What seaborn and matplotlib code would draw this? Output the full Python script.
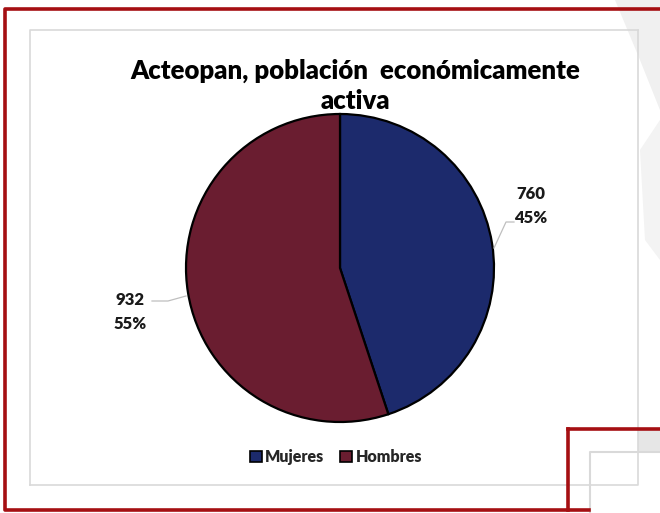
import matplotlib
matplotlib.use("Agg")
import matplotlib.pyplot as plt
import seaborn as sns
from matplotlib.lines import Line2D
from matplotlib.patches import Rectangle, Polygon

sns.set_theme(style="white")
plt.rcParams['font.family'] = ['Lato', 'DejaVu Sans']

categories = ["Mujeres", "Hombres"]
values = [760, 932]
colors = ["#1C2A6C", "#6A1D30"]
title = "Acteopan, población  económicamente\nactiva"

W, H = 660, 513
fig = plt.figure(figsize=(W / 100, H / 100), dpi=100)
fig.patch.set_facecolor("white")

def fx(x):
    return x / W

def fy(y):
    return 1 - y / H

# decorative light gray stroke at right
fig.patches.append(Polygon([(fx(615), fy(0)), (fx(660), fy(0)), (fx(660), fy(110)), (fx(640), fy(60))],
                           closed=True, transform=fig.transFigure, facecolor="#f0f0f0", edgecolor="none", zorder=0))
fig.patches.append(Polygon([(fx(640), fy(150)), (fx(660), fy(120)), (fx(660), fy(260)), (fx(645), fy(240))],
                           closed=True, transform=fig.transFigure, facecolor="#f3f3f3", edgecolor="none", zorder=0))
fig.patches.append(Rectangle((fx(638), fy(452)), fx(22), 23 / H, transform=fig.transFigure,
                             facecolor="#e6e6e6", edgecolor="none", zorder=0))

red = "#A50F12"
gray = "#d9d9d9"
def fline(xs, ys, color, lw, z=5):
    fig.lines.append(Line2D([fx(x) for x in xs], [fy(y) for y in ys], transform=fig.transFigure,
                            color=color, linewidth=lw, zorder=z, solid_capstyle="projecting"))

# inner chart box
fline([30, 638, 638], [485, 485, 30], gray, 1.2, 3)
fline([30, 30, 638], [485, 30, 30], gray, 1.2, 3)
# outer red frame
fline([660, 5, 5, 589], [9, 9, 510, 510], red, 2.6)
# second red frame corner
fline([568, 568], [510, 429], red, 2.6)
fline([568, 660], [429, 429], red, 2.6)
# gray box bottom right
fline([590, 590, 660], [513, 452, 452], gray, 1.5, 4)

# pie
cx, cy, r = 340, 268, 154
ax = fig.add_axes([fx(cx - r), fy(cy + r), 2 * r / W, 2 * r / H])
wedges, _ = ax.pie(values, colors=colors, startangle=90, counterclock=False,
                   wedgeprops=dict(edgecolor="black", linewidth=1.6))
ax.set_xlim(-1, 1)
ax.set_ylim(-1, 1)
ax.set_axis_off()

total = sum(values)
label_pos = [(531, 206), (130, 312)]
leader = [([494, 506, 514], [248, 222, 222]), ([186, 168, 152], [296, 301, 301])]
for v, (lx, ly), (xs, ys) in zip(values, label_pos, leader):
    fig.text(fx(lx), fy(ly), f"{v}\n{round(100 * v / total)}%", ha="center", va="center",
             fontsize=12, fontweight="heavy", color="#1a1a1a", linespacing=1.55)
    fline(xs, ys, "#bfbfbf", 0.9, 6)

fig.text(fx(355), fy(86), title, ha="center", va="center", fontsize=18.5,
         fontweight="heavy", color="black", linespacing=1.3)

handles = [Rectangle((0, 0), 1, 1, facecolor=c, edgecolor="black", linewidth=1.2) for c in colors]
fig.legend(handles, categories, loc="center", bbox_to_anchor=(fx(336), fy(457)), ncol=2,
           frameon=False, handlelength=0.75, handleheight=0.75, handletextpad=0.2,
           columnspacing=1.0, prop=dict(size=11.5, weight="heavy"))

fig.savefig("out.png", dpi=100, facecolor="white")
